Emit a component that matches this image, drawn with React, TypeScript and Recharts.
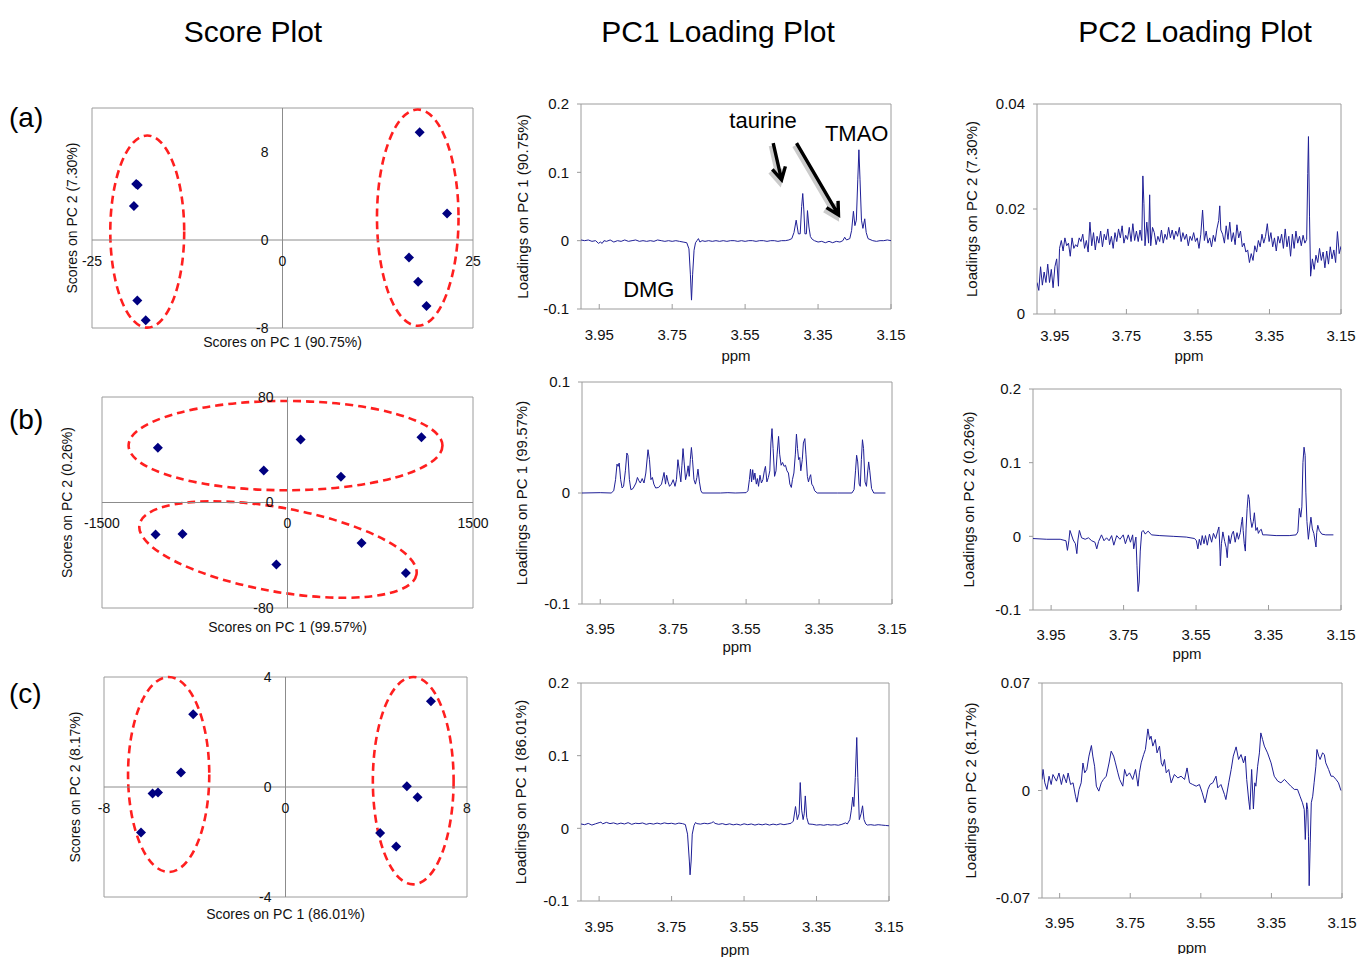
import React from 'react';
import {
  ScatterChart,
  Scatter,
  LineChart,
  Line,
  XAxis,
  YAxis,
  ReferenceArea,
  ReferenceLine,
  ReferenceDot,
} from 'recharts';

const FONT = '"Liberation Sans", Arial, Helvetica, sans-serif';
const NAVY = '#000080';
const SPECTRUM = '#1f1f96';
const FRAME = '#9c9c9c';
const AXIS0 = '#8c8c8c';
const RED = '#ff1f1f';

// ---------- score plots: [PC1, PC2] per sample ----------
const scoresA = [
  [-19.2, 5.1], [-19.0, 5.0], [-19.5, 3.1], [-19.05, -5.5], [-17.95, -7.3],
  [18.0, 9.8], [21.6, 2.4], [16.6, -1.6], [17.8, -3.8], [18.9, -6.0],
];
const scoresB = [
  [-1048, 41.6], [-192, 24.2], [106, 47.7], [432, 19.6], [1083, 49.4],
  [-1067, -24.3], [-849, -23.9], [-90, -47.1], [599, -30.7], [957, -53.5],
];
const scoresC = [
  [-4.07, 2.65], [-4.61, 0.53], [-5.86, -0.24], [-5.62, -0.2], [-6.37, -1.65],
  [6.41, 3.12], [5.35, 0.03], [5.82, -0.37], [4.17, -1.67], [4.88, -2.16],
];

// group ellipses: [pc1 from, pc1 to, pc2 from, pc2 to, tilt deg]
const groupsA = [[-22.6, -12.9, -7.97, 9.5, 0], [12.4, 23.1, -7.8, 11.86, 0]];
const groupsB = [[-1285, 1253, 9.3, 77, 0], [-1215, 1061, -67.5, -3.9, 10.2]];
const groupsC = [[-6.94, -3.36, -3.09, 4.0, 0], [3.85, 7.41, -3.54, 4.0, 0]];

const xTicksA = [-25, 0, 25];
const yTicksA = [-8, 0, 8];
const xTicksB = [-1500, 0, 1500];
const yTicksB = [-80, 0, 80];
const xTicksC = [-8, 0, 8];
const yTicksC = [-4, 0, 4];

// ---------- loading plots: [ppm, loading] ----------
const PPM_TICKS = [3.95, 3.75, 3.55, 3.35, 3.15];

const pc1A = [
  [4.0, 0.001], [3.99, 0.0], [3.98, 0.001], [3.97, -0.001], [3.96, 0.0], [3.952, -0.004], [3.947, -0.002],
  [3.942, -0.004], [3.937, 0.0], [3.93, -0.001], [3.92, 0.001], [3.91, -0.002], [3.9, 0.0], [3.89, -0.001],
  [3.88, 0.001], [3.87, -0.001], [3.86, 0.0], [3.85, 0.001], [3.84, -0.001], [3.83, 0.0], [3.82, -0.001],
  [3.81, 0.0], [3.8, -0.001], [3.79, 0.001], [3.78, 0.0], [3.77, -0.001], [3.76, 0.0], [3.75, -0.001],
  [3.74, 0.0], [3.73, -0.001], [3.72, -0.002], [3.71, -0.003], [3.704, -0.012], [3.7, -0.05], [3.697, -0.087],
  [3.694, -0.05], [3.69, -0.014], [3.686, -0.003], [3.682, 0.0], [3.678, 0.003], [3.674, -0.002], [3.668, 0.0],
  [3.66, -0.001], [3.65, 0.0], [3.64, -0.001], [3.63, 0.0], [3.62, -0.001], [3.61, 0.0], [3.6, -0.001],
  [3.59, 0.0], [3.58, 0.0], [3.57, -0.001], [3.56, 0.0], [3.55, -0.001], [3.54, 0.0], [3.53, 0.0],
  [3.52, -0.001], [3.51, 0.0], [3.5, 0.0], [3.49, -0.001], [3.48, 0.0], [3.47, 0.0], [3.46, -0.001],
  [3.45, 0.0], [3.44, 0.0], [3.43, 0.001], [3.422, 0.003], [3.416, 0.012], [3.41, 0.03], [3.404, 0.01],
  [3.399, 0.01], [3.395, 0.05], [3.392, 0.069], [3.389, 0.045], [3.386, 0.01], [3.382, 0.01], [3.379, 0.044],
  [3.375, 0.02], [3.371, 0.006], [3.366, 0.002], [3.36, 0.0], [3.35, -0.002], [3.34, -0.001], [3.33, -0.003],
  [3.32, -0.001], [3.31, -0.003], [3.3, -0.001], [3.29, -0.002], [3.282, 0.0], [3.277, 0.005], [3.272, 0.001],
  [3.263, 0.003], [3.258, 0.015], [3.253, 0.043], [3.249, 0.022], [3.245, 0.03], [3.241, 0.09], [3.238, 0.133],
  [3.235, 0.09], [3.231, 0.03], [3.227, 0.018], [3.222, 0.032], [3.218, 0.012], [3.213, 0.003], [3.2, 0.0],
  [3.19, -0.001], [3.18, 0.0], [3.17, 0.0], [3.16, 0.001], [3.15, 0.0],
];

const pc2A = [
  [4.0, 0.006], [3.995, 0.0045], [3.99, 0.009], [3.985, 0.0055], [3.98, 0.008], [3.975, 0.006], [3.97, 0.0095],
  [3.965, 0.006], [3.96, 0.0085], [3.955, 0.005], [3.95, 0.009], [3.945, 0.0105], [3.94, 0.0053], [3.937, 0.0125],
  [3.932, 0.014], [3.927, 0.012], [3.922, 0.0145], [3.917, 0.013], [3.912, 0.0135], [3.907, 0.011], [3.902, 0.0145],
  [3.897, 0.0125], [3.892, 0.0132], [3.887, 0.0128], [3.882, 0.0145], [3.877, 0.0138], [3.872, 0.0152],
  [3.867, 0.0125], [3.862, 0.014], [3.857, 0.0118], [3.852, 0.0175], [3.847, 0.013], [3.842, 0.0155],
  [3.837, 0.0122], [3.832, 0.0148], [3.827, 0.0135], [3.822, 0.0158], [3.817, 0.0128], [3.812, 0.0152],
  [3.807, 0.0141], [3.802, 0.0162], [3.797, 0.0132], [3.792, 0.0148], [3.787, 0.0125], [3.782, 0.0155],
  [3.777, 0.0138], [3.772, 0.0162], [3.767, 0.0145], [3.762, 0.0168], [3.757, 0.0135], [3.752, 0.015],
  [3.747, 0.0142], [3.742, 0.0165], [3.737, 0.0138], [3.732, 0.0172], [3.727, 0.014], [3.722, 0.0158],
  [3.717, 0.0138], [3.712, 0.016], [3.707, 0.014], [3.704, 0.0263], [3.701, 0.021], [3.698, 0.013],
  [3.693, 0.0175], [3.688, 0.0135], [3.685, 0.0227], [3.682, 0.013], [3.677, 0.0165], [3.672, 0.0155],
  [3.667, 0.0132], [3.662, 0.0148], [3.657, 0.0138], [3.652, 0.016], [3.647, 0.0135], [3.642, 0.0152],
  [3.637, 0.0142], [3.632, 0.0165], [3.627, 0.0145], [3.622, 0.016], [3.617, 0.0142], [3.612, 0.0158],
  [3.607, 0.0148], [3.602, 0.0165], [3.597, 0.0138], [3.592, 0.0155], [3.587, 0.0142], [3.582, 0.0152],
  [3.577, 0.013], [3.572, 0.0148], [3.567, 0.014], [3.562, 0.0155], [3.557, 0.0138], [3.552, 0.0145],
  [3.547, 0.0125], [3.542, 0.0152], [3.537, 0.0198], [3.532, 0.014], [3.527, 0.0158], [3.522, 0.0135],
  [3.517, 0.0145], [3.512, 0.0128], [3.507, 0.015], [3.502, 0.0138], [3.497, 0.0162], [3.492, 0.0178],
  [3.489, 0.0206], [3.486, 0.016], [3.481, 0.0152], [3.476, 0.0135], [3.471, 0.0168], [3.466, 0.0142],
  [3.461, 0.0175], [3.456, 0.0138], [3.451, 0.0155], [3.446, 0.0132], [3.441, 0.017], [3.436, 0.0145],
  [3.431, 0.0158], [3.426, 0.0128], [3.421, 0.0135], [3.416, 0.0118], [3.411, 0.0122], [3.406, 0.0098],
  [3.401, 0.0115], [3.396, 0.0102], [3.391, 0.013], [3.386, 0.0118], [3.381, 0.014], [3.376, 0.0128],
  [3.371, 0.0152], [3.366, 0.0135], [3.361, 0.0148], [3.356, 0.0172], [3.351, 0.0138], [3.346, 0.0155],
  [3.341, 0.0128], [3.336, 0.0145], [3.331, 0.012], [3.326, 0.0148], [3.321, 0.0135], [3.316, 0.0152],
  [3.311, 0.0125], [3.306, 0.0162], [3.301, 0.0128], [3.296, 0.0148], [3.291, 0.011], [3.286, 0.0152],
  [3.281, 0.0125], [3.276, 0.0158], [3.271, 0.0135], [3.266, 0.0148], [3.261, 0.013], [3.256, 0.015],
  [3.251, 0.0135], [3.246, 0.0142], [3.243, 0.0268], [3.241, 0.0338], [3.238, 0.0185], [3.235, 0.0072],
  [3.23, 0.0105], [3.225, 0.0085], [3.22, 0.0112], [3.215, 0.0098], [3.21, 0.0125], [3.205, 0.0102],
  [3.2, 0.0118], [3.195, 0.0088], [3.19, 0.012], [3.185, 0.0095], [3.18, 0.0128], [3.175, 0.0105],
  [3.17, 0.0122], [3.165, 0.0098], [3.16, 0.0157], [3.155, 0.0115], [3.15, 0.0129],
];

const pc1B = [
  [4.0, 0], [3.95, 0.0003], [3.92, 0], [3.913, 0.002], [3.908, 0.012], [3.904, 0.026], [3.901, 0.024],
  [3.898, 0.027], [3.894, 0.012], [3.89, 0.0045], [3.886, 0.006], [3.881, 0.02], [3.877, 0.036], [3.874, 0.034],
  [3.87, 0.012], [3.866, 0.003], [3.86, 0.004], [3.852, 0.009], [3.848, 0.014], [3.844, 0.011], [3.84, 0.009],
  [3.835, 0.013], [3.83, 0.009], [3.825, 0.018], [3.819, 0.039], [3.815, 0.03], [3.811, 0.012], [3.807, 0.014],
  [3.803, 0.008], [3.798, 0.0045], [3.79, 0.005], [3.782, 0.008], [3.775, 0.0185], [3.771, 0.008], [3.768, 0.016],
  [3.764, 0.01], [3.76, 0.006], [3.755, 0.008], [3.75, 0.012], [3.745, 0.006], [3.741, 0.012], [3.737, 0.03],
  [3.733, 0.02], [3.729, 0.01], [3.726, 0.025], [3.723, 0.04], [3.72, 0.028], [3.716, 0.012], [3.712, 0.018],
  [3.709, 0.0245], [3.706, 0.015], [3.703, 0.03], [3.7, 0.041], [3.697, 0.03], [3.693, 0.012], [3.689, 0.008],
  [3.685, 0.014], [3.682, 0.0215], [3.678, 0.01], [3.674, 0.002], [3.67, 0], [3.62, 0], [3.6, 0.0003],
  [3.58, 0], [3.55, 0.0003], [3.545, 0.002], [3.541, 0.012], [3.538, 0.0215], [3.535, 0.01], [3.532, 0.021],
  [3.529, 0.012], [3.526, 0.018], [3.522, 0.008], [3.519, 0.013], [3.516, 0.006], [3.512, 0.016], [3.508, 0.009],
  [3.504, 0.012], [3.5, 0.02], [3.497, 0.024], [3.493, 0.01], [3.489, 0.014], [3.485, 0.02], [3.482, 0.045],
  [3.479, 0.058], [3.476, 0.04], [3.472, 0.015], [3.468, 0.02], [3.465, 0.035], [3.461, 0.051], [3.458, 0.035],
  [3.454, 0.025], [3.45, 0.0275], [3.446, 0.024], [3.442, 0.025], [3.438, 0.02], [3.434, 0.018], [3.43, 0.008],
  [3.426, 0.005], [3.423, 0.012], [3.419, 0.018], [3.415, 0.035], [3.412, 0.053], [3.409, 0.04], [3.406, 0.03],
  [3.403, 0.032], [3.4, 0.02], [3.396, 0.03], [3.393, 0.045], [3.389, 0.049], [3.386, 0.035], [3.382, 0.015],
  [3.379, 0.01], [3.376, 0.014], [3.373, 0.0165], [3.37, 0.008], [3.366, 0.006], [3.362, 0.002], [3.355, 0],
  [3.3, 0], [3.26, 0], [3.254, 0.003], [3.25, 0.02], [3.247, 0.034], [3.244, 0.028], [3.24, 0.008],
  [3.237, 0.006], [3.234, 0.03], [3.231, 0.048], [3.228, 0.04], [3.224, 0.01], [3.22, 0.006], [3.217, 0.018],
  [3.214, 0.028], [3.211, 0.02], [3.206, 0.004], [3.2, 0], [3.168, 0],
];

const pc2B = [
  [4.0, -0.003], [3.962, -0.004], [3.925, -0.004], [3.909, -0.006], [3.905, -0.019], [3.901, -0.006],
  [3.898, 0.008], [3.889, -0.005], [3.883, -0.01], [3.879, -0.0235], [3.876, -0.005], [3.872, 0.008],
  [3.866, -0.002], [3.856, -0.004], [3.847, -0.002], [3.838, -0.006], [3.829, -0.008], [3.824, -0.017],
  [3.819, -0.007], [3.811, 0.002], [3.804, -0.006], [3.797, -0.002], [3.79, -0.006], [3.783, 0.001],
  [3.777, -0.012], [3.769, 0.001], [3.76, -0.004], [3.751, 0.002], [3.745, -0.01], [3.737, 0.002],
  [3.731, -0.008], [3.725, 0.002], [3.722, -0.017], [3.716, -0.001], [3.713, -0.04], [3.71, -0.075],
  [3.707, -0.062], [3.704, -0.02], [3.7, 0.006], [3.696, 0.008], [3.69, 0.003], [3.687, 0.005], [3.682, 0.007],
  [3.673, 0.002], [3.65, 0.001], [3.613, 0], [3.577, -0.001], [3.554, -0.003], [3.549, -0.006], [3.545, -0.017],
  [3.541, -0.004], [3.537, -0.012], [3.533, 0.001], [3.528, -0.01], [3.524, 0.001], [3.519, -0.012],
  [3.513, 0.003], [3.507, -0.008], [3.502, 0.004], [3.496, -0.003], [3.491, 0.006], [3.487, 0.0127],
  [3.484, -0.02], [3.483, -0.04], [3.48, -0.01], [3.476, 0.006], [3.471, -0.007], [3.467, -0.015],
  [3.464, -0.029], [3.46, 0.001], [3.456, -0.01], [3.451, 0.003], [3.447, 0.007], [3.442, -0.008],
  [3.437, 0.005], [3.433, -0.004], [3.428, 0.005], [3.424, 0.02], [3.422, 0.026], [3.42, 0.008],
  [3.417, -0.01], [3.414, -0.02], [3.412, 0.01], [3.409, 0.038], [3.406, 0.0566], [3.403, 0.05], [3.4, 0.025],
  [3.396, 0.012], [3.392, 0.02], [3.389, 0.032], [3.385, 0.008], [3.381, 0.012], [3.378, 0.004], [3.374, 0.008],
  [3.37, 0.0095], [3.366, 0.002], [3.357, 0.002], [3.329, 0.001], [3.293, 0.001], [3.274, 0.002],
  [3.269, 0.006], [3.265, 0.038], [3.261, 0.026], [3.258, 0.04], [3.255, 0.1], [3.252, 0.121], [3.249, 0.11],
  [3.247, 0.06], [3.244, 0.02], [3.24, -0.004], [3.237, 0.01], [3.233, 0.026], [3.229, 0.01], [3.225, 0.004],
  [3.222, -0.005], [3.219, -0.0145], [3.217, 0.005], [3.214, 0.015], [3.21, 0.008], [3.203, 0.003],
  [3.192, 0.002], [3.171, 0.002],
];

const pc1C = [
  [4.0, 0.006], [3.99, 0.005], [3.98, 0.0068], [3.97, 0.0045], [3.96, 0.0062], [3.95, 0.0078], [3.945, 0.0085],
  [3.94, 0.0062], [3.93, 0.0082], [3.92, 0.0065], [3.91, 0.0075], [3.9, 0.0058], [3.89, 0.0072], [3.88, 0.006],
  [3.87, 0.0078], [3.86, 0.0055], [3.85, 0.007], [3.84, 0.0065], [3.83, 0.0074], [3.82, 0.0055], [3.81, 0.0068],
  [3.8, 0.0058], [3.79, 0.0072], [3.78, 0.006], [3.77, 0.0075], [3.76, 0.0064], [3.75, 0.007], [3.74, 0.0058],
  [3.73, 0.0072], [3.72, 0.0065], [3.712, 0.0052], [3.706, -0.008], [3.701, -0.045], [3.699, -0.064],
  [3.696, -0.045], [3.693, -0.008], [3.688, 0.004], [3.684, 0.008], [3.68, 0.0065], [3.67, 0.0058], [3.66, 0.007],
  [3.65, 0.0062], [3.64, 0.0075], [3.635, 0.009], [3.63, 0.0068], [3.62, 0.0055], [3.61, 0.0065], [3.6, 0.005],
  [3.59, 0.0062], [3.58, 0.0048], [3.57, 0.0058], [3.56, 0.0045], [3.55, 0.0062], [3.54, 0.005], [3.53, 0.006],
  [3.52, 0.0045], [3.51, 0.0058], [3.5, 0.0048], [3.49, 0.006], [3.48, 0.0045], [3.47, 0.0058], [3.46, 0.0048],
  [3.45, 0.0062], [3.44, 0.005], [3.43, 0.006], [3.42, 0.007], [3.414, 0.01], [3.408, 0.03], [3.403, 0.012],
  [3.398, 0.02], [3.395, 0.063], [3.391, 0.025], [3.387, 0.012], [3.384, 0.02], [3.381, 0.0446], [3.377, 0.015],
  [3.372, 0.006], [3.36, 0.0055], [3.35, 0.0045], [3.34, 0.005], [3.33, 0.0042], [3.32, 0.0052], [3.31, 0.0045],
  [3.3, 0.005], [3.29, 0.0042], [3.28, 0.0055], [3.27, 0.0075], [3.265, 0.006], [3.258, 0.012], [3.254, 0.025],
  [3.25, 0.043], [3.247, 0.03], [3.243, 0.07], [3.239, 0.125], [3.236, 0.07], [3.232, 0.012], [3.227, 0.02],
  [3.223, 0.031], [3.219, 0.012], [3.214, 0.006], [3.21, 0.0045], [3.2, 0.005], [3.19, 0.0042], [3.18, 0.005],
  [3.17, 0.0045], [3.16, 0.004], [3.15, 0.0035],
];

const pc2C = [
  [4.0, 0.0072], [3.997, 0.0137], [3.992, 0.005], [3.986, 0.0007], [3.98, 0.0093], [3.974, 0.0039],
  [3.969, 0.0104], [3.959, 0.0061], [3.952, 0.0114], [3.945, 0.0039], [3.939, 0.0104], [3.931, 0.005],
  [3.926, 0.0114], [3.919, 0.0039], [3.912, 0.005], [3.905, -0.0037], [3.901, -0.0076], [3.895, 0.0007],
  [3.889, 0.005], [3.884, 0.0179], [3.879, 0.0115], [3.873, 0.0137], [3.867, 0.0224], [3.86, 0.0293],
  [3.856, 0.0224], [3.851, 0.0158], [3.846, 0.0028], [3.839, -0.0004], [3.832, 0.005], [3.826, 0.0072],
  [3.818, 0.0093], [3.81, 0.0179], [3.804, 0.0256], [3.797, 0.0224], [3.792, 0.018], [3.785, 0.0115],
  [3.78, 0.0072], [3.771, 0.0028], [3.766, 0.0137], [3.76, 0.0093], [3.752, 0.0115], [3.743, 0.0072],
  [3.735, 0.0137], [3.728, 0.0028], [3.724, 0.0115], [3.719, 0.018], [3.712, 0.0234], [3.707, 0.0267],
  [3.7, 0.0401], [3.695, 0.0332], [3.691, 0.0354], [3.686, 0.0289], [3.679, 0.0332], [3.674, 0.0245],
  [3.667, 0.0289], [3.662, 0.018], [3.658, 0.0158], [3.653, 0.0202], [3.648, 0.0115], [3.641, 0.0137],
  [3.634, 0.005], [3.625, 0.0104], [3.615, 0.0082], [3.606, 0.0093], [3.596, 0.0072], [3.589, 0.0147],
  [3.582, 0.005], [3.573, 0.0039], [3.563, 0.0028], [3.554, 0.0039], [3.546, -0.0015], [3.538, -0.008],
  [3.53, 0.0007], [3.524, 0.0039], [3.516, 0.005], [3.507, 0.0093], [3.502, 0.0017], [3.493, 0.0039],
  [3.483, -0.0026], [3.479, -0.0059], [3.471, 0.005], [3.464, 0.0137], [3.458, 0.0224], [3.45, 0.0284],
  [3.443, 0.0202], [3.436, 0.0234], [3.429, 0.018], [3.424, 0.0224], [3.42, 0.0072], [3.414, -0.0069],
  [3.411, -0.0124], [3.406, 0.0137], [3.401, -0.012], [3.397, 0.005], [3.394, 0.0028], [3.389, 0.0158],
  [3.384, 0.0245], [3.38, 0.0375], [3.375, 0.0332], [3.37, 0.0289], [3.361, 0.0245], [3.351, 0.018],
  [3.342, 0.0093], [3.332, 0.0061], [3.323, 0.005], [3.313, 0.0072], [3.304, 0.005], [3.295, 0.0028],
  [3.285, 0.0007], [3.276, 0.0007], [3.269, -0.0037], [3.262, -0.008], [3.257, -0.0124], [3.254, -0.0319],
  [3.25, -0.008], [3.247, -0.0124], [3.245, -0.0298], [3.243, -0.062], [3.24, -0.0341], [3.237, -0.008],
  [3.233, -0.0037], [3.229, 0.005], [3.224, 0.0158], [3.221, 0.0267], [3.216, 0.0224], [3.212, 0.0202],
  [3.205, 0.0245], [3.2, 0.0234], [3.196, 0.018], [3.188, 0.0137], [3.181, 0.0093], [3.175, 0.0093],
  [3.167, 0.0072], [3.16, 0.005], [3.153, 0.0],
];

// annotations for the first PC1 loading plot: [text, ppm, loading]
const notesA = [['taurine', 3.501, 0.1766], ['TMAO', 3.244, 0.158], ['DMG', 3.814, -0.0708]];
// arrows: [ppm from, loading from, ppm to, loading to]
const arrowsA = [[3.473, 0.1426, 3.45, 0.089], [3.409, 0.1426, 3.294, 0.0378]];

type Box = { x: number; y: number; w: number; h: number };

const PAD_TOP = 14;
const PAD_RIGHT = 30;
const Y_AXIS_W = 90;
const X_AXIS_H = 56;

function yTitle(text: string, gap: number, size: number) {
  return {
    content: (props: any) => {
      const vb = props.viewBox || {};
      const cx = vb.x + vb.width - gap;
      const cy = vb.y + vb.height / 2;
      return (
        <text x={cx} y={cy} transform={`rotate(-90 ${cx} ${cy})`} textAnchor="middle"
          dominantBaseline="central" fontSize={size} fill="#111" fontFamily={FONT}>
          {text}
        </text>
      );
    },
  };
}

function xTitle(text: string, dy: number, size: number) {
  return {
    content: (props: any) => {
      const vb = props.viewBox || {};
      return (
        <text x={vb.x + vb.width / 2} y={vb.y + dy} textAnchor="middle" dominantBaseline="central"
          fontSize={size} fill="#111" fontFamily={FONT}>
          {text}
        </text>
      );
    },
  };
}

const ellipseShape = (tilt: number) => (p: any) => {
  const cx = p.x + p.width / 2;
  const cy = p.y + p.height / 2;
  return (
    <ellipse cx={cx} cy={cy} rx={Math.abs(p.width) / 2} ry={Math.abs(p.height) / 2} fill="none"
      stroke={RED} strokeWidth={2.6} strokeDasharray="8 5"
      transform={tilt ? `rotate(${tilt} ${cx} ${cy})` : undefined} />
  );
};

const diamond = (p: any) => (
  <path d={`M${p.cx},${p.cy - 5}L${p.cx + 5},${p.cy}L${p.cx},${p.cy + 5}L${p.cx - 5},${p.cy}Z`} fill={NAVY} />
);

const arrowShape = (p: any) => {
  const { x1, y1, x2, y2 } = p;
  const len = Math.hypot(x2 - x1, y2 - y1) || 1;
  const ux = (x2 - x1) / len;
  const uy = (y2 - y1) / len;
  const head = 14;
  const a = 0.5;
  const hx1 = x2 - head * (ux * Math.cos(a) - uy * Math.sin(a));
  const hy1 = y2 - head * (uy * Math.cos(a) + ux * Math.sin(a));
  const hx2 = x2 - head * (ux * Math.cos(-a) - uy * Math.sin(-a));
  const hy2 = y2 - head * (uy * Math.cos(-a) + ux * Math.sin(-a));
  const d = `M${x1},${y1}L${x2},${y2}M${hx1},${hy1}L${x2},${y2}L${hx2},${hy2}`;
  return (
    <g>
      <path d={d} transform="translate(-2,2.5)" stroke="#a8a8a8" strokeWidth={5} fill="none" opacity={0.6} />
      <path d={d} stroke="#000" strokeWidth={3.4} fill="none" strokeLinejoin="miter" />
    </g>
  );
};

function ScorePlot(props: {
  box: Box; xDomain: number[]; yDomain: number[]; xTicks: number[]; yTicks: number[];
  points: number[][]; groups: number[][]; xLabel: string; yLabel: string; xGap: number; yGap: number;
}) {
  const { box, xDomain, yDomain, xTicks, yTicks, points, groups } = props;
  const data = points.map(([x, y]) => ({ x, y }));
  return (
    <div style={{ position: 'absolute', left: box.x - Y_AXIS_W, top: box.y - PAD_TOP }}>
      <ScatterChart width={Y_AXIS_W + box.w + PAD_RIGHT} height={PAD_TOP + box.h + X_AXIS_H}
        margin={{ top: PAD_TOP, right: PAD_RIGHT, left: 0, bottom: 0 }}>
        <XAxis type="number" dataKey="x" domain={xDomain} allowDataOverflow height={X_AXIS_H} tick={false}
          axisLine={false} tickLine={false} label={xTitle(props.xLabel, props.xGap, 14)} />
        <YAxis type="number" dataKey="y" domain={yDomain} allowDataOverflow width={Y_AXIS_W} tick={false}
          axisLine={false} tickLine={false} label={yTitle(props.yLabel, props.yGap, 14)} />
        <ReferenceArea x1={xDomain[0]} x2={xDomain[1]} y1={yDomain[0]} y2={yDomain[1]} fill="none"
          stroke={FRAME} strokeWidth={1} ifOverflow="visible" />
        <ReferenceLine x={0} stroke={AXIS0} strokeWidth={1} />
        <ReferenceLine y={0} stroke={AXIS0} strokeWidth={1} />
        {groups.map((g, i) => (
          <ReferenceArea key={`g${i}`} x1={g[0]} x2={g[1]} y1={g[2]} y2={g[3]} ifOverflow="visible"
            shape={ellipseShape(g[4])} />
        ))}
        <Scatter data={data} shape={diamond} isAnimationActive={false} />
        {xTicks.map((t) => (
          <ReferenceDot key={`x${t}`} x={t} y={0} r={0} fill="none" stroke="none" ifOverflow="visible"
            label={{ value: String(t), position: 'bottom', offset: 16, fontSize: 14, fill: '#111', fontFamily: FONT }} />
        ))}
        {yTicks.map((t) => (
          <ReferenceDot key={`y${t}`} x={0} y={t} r={0} fill="none" stroke="none" ifOverflow="visible"
            label={{ value: String(t), position: 'left', offset: 14, fontSize: 14, fill: '#111', fontFamily: FONT }} />
        ))}
      </ScatterChart>
    </div>
  );
}

function LoadingPlot(props: {
  box: Box; points: number[][]; yDomain: number[]; yTicks: number[]; yLabel: string;
  yGap: number; tickGap: number; ppmGap: number; notes?: any[]; arrows?: number[][];
}) {
  const { box, points, yDomain, yTicks } = props;
  const data = points.map(([ppm, v]) => ({ ppm, v }));
  return (
    <div style={{ position: 'absolute', left: box.x - Y_AXIS_W, top: box.y - PAD_TOP }}>
      <LineChart width={Y_AXIS_W + box.w + PAD_RIGHT} height={PAD_TOP + box.h + X_AXIS_H} data={data}
        margin={{ top: PAD_TOP, right: PAD_RIGHT, left: 0, bottom: 0 }}>
        <XAxis type="number" dataKey="ppm" domain={[3.15, 4.0]} reversed allowDataOverflow ticks={PPM_TICKS}
          interval={0} height={X_AXIS_H} axisLine={false} tickSize={-5} tickMargin={props.tickGap}
          tickLine={{ stroke: FRAME }} tick={{ fontSize: 15, fill: '#111', fontFamily: FONT }}
          label={xTitle('ppm', props.ppmGap, 15)} />
        <YAxis type="number" domain={yDomain} ticks={yTicks} interval={0} allowDataOverflow width={Y_AXIS_W}
          axisLine={false} tickSize={4} tickMargin={8} tickLine={{ stroke: FRAME }}
          tick={{ fontSize: 15, fill: '#111', fontFamily: FONT }}
          label={yTitle(props.yLabel, props.yGap, 15)} />
        <ReferenceArea x1={3.15} x2={4.0} y1={yDomain[0]} y2={yDomain[1]} fill="none" stroke={FRAME}
          strokeWidth={1} ifOverflow="visible" />
        <Line type="linear" dataKey="v" stroke={SPECTRUM} strokeWidth={1} dot={false} activeDot={false}
          isAnimationActive={false} />
        {(props.arrows || []).map((a, i) => (
          <ReferenceLine key={`a${i}`} segment={[{ x: a[0], y: a[1] }, { x: a[2], y: a[3] }]}
            ifOverflow="visible" shape={arrowShape} />
        ))}
        {(props.notes || []).map((n) => (
          <ReferenceDot key={n[0]} x={n[1]} y={n[2]} r={0} fill="none" stroke="none" ifOverflow="visible"
            label={{ value: n[0], position: 'center', fontSize: 22, fill: '#000', fontFamily: FONT }} />
        ))}
      </LineChart>
    </div>
  );
}

const titleStyle: React.CSSProperties = {
  position: 'absolute', top: 12, width: 400, textAlign: 'center', fontSize: 30, lineHeight: '40px',
  fontFamily: FONT, color: '#000',
};
const rowStyle: React.CSSProperties = {
  position: 'absolute', left: 9, fontSize: 28, lineHeight: '30px', fontFamily: FONT, color: '#000',
};

export default function App() {
  return (
    <div style={{ position: 'relative', width: 1359, height: 959, background: '#fff', fontFamily: FONT, overflow: 'hidden' }}>
      <style>{'html,body{margin:0;background:#fff;overflow:hidden}'}</style>
      <div style={{ ...titleStyle, left: 253 - 200 }}>Score Plot</div>
      <div style={{ ...titleStyle, left: 718 - 200 }}>PC1 Loading Plot</div>
      <div style={{ ...titleStyle, left: 1195 - 200 }}>PC2 Loading Plot</div>
      <div style={{ ...rowStyle, top: 103 }}>(a)</div>
      <div style={{ ...rowStyle, top: 405 }}>(b)</div>
      <div style={{ ...rowStyle, top: 679 }}>(c)</div>

      <ScorePlot box={{ x: 92, y: 108, w: 381, h: 220 }} xDomain={[-25, 25]} yDomain={[-8, 12]}
        xTicks={xTicksA} yTicks={yTicksA} points={scoresA} groups={groupsA}
        xLabel="Scores on PC 1 (90.75%)" yLabel="Scores on PC 2 (7.30%)" xGap={14} yGap={20} />
      <ScorePlot box={{ x: 102, y: 397, w: 371, h: 211 }} xDomain={[-1500, 1500]} yDomain={[-80, 80]}
        xTicks={xTicksB} yTicks={yTicksB} points={scoresB} groups={groupsB}
        xLabel="Scores on PC 1 (99.57%)" yLabel="Scores on PC 2 (0.26%)" xGap={19} yGap={35} />
      <ScorePlot box={{ x: 104, y: 677, w: 363, h: 220 }} xDomain={[-8, 8]} yDomain={[-4, 4]}
        xTicks={xTicksC} yTicks={yTicksC} points={scoresC} groups={groupsC}
        xLabel="Scores on PC 1 (86.01%)" yLabel="Scores on PC 2 (8.17%)" xGap={17} yGap={29} />

      <LoadingPlot box={{ x: 581, y: 104, w: 310, h: 205 }} points={pc1A} yDomain={[-0.1, 0.2]}
        yTicks={[-0.1, 0, 0.1, 0.2]} yLabel="Loadings on PC 1 (90.75%)" yGap={59} tickGap={25} ppmGap={46}
        notes={notesA} arrows={arrowsA} />
      <LoadingPlot box={{ x: 1037, y: 104, w: 304, h: 210 }} points={pc2A} yDomain={[0, 0.04]}
        yTicks={[0, 0.02, 0.04]} yLabel="Loadings on PC 2 (7.30%)" yGap={66} tickGap={21} ppmGap={41} />
      <LoadingPlot box={{ x: 582, y: 382, w: 310, h: 222 }} points={pc1B} yDomain={[-0.1, 0.1]}
        yTicks={[-0.1, 0, 0.1]} yLabel="Loadings on PC 1 (99.57%)" yGap={61} tickGap={24} ppmGap={42} />
      <LoadingPlot box={{ x: 1033, y: 389, w: 308, h: 221 }} points={pc2B} yDomain={[-0.1, 0.2]}
        yTicks={[-0.1, 0, 0.1, 0.2]} yLabel="Loadings on PC 2 (0.26%)" yGap={65} tickGap={24} ppmGap={43} />
      <LoadingPlot box={{ x: 581, y: 683, w: 308, h: 218 }} points={pc1C} yDomain={[-0.1, 0.2]}
        yTicks={[-0.1, 0, 0.1, 0.2]} yLabel="Loadings on PC 1 (86.01%)" yGap={61} tickGap={25} ppmGap={48} />
      <LoadingPlot box={{ x: 1042, y: 683, w: 300, h: 215 }} points={pc2C} yDomain={[-0.07, 0.07]}
        yTicks={[-0.07, 0, 0.07]} yLabel="Loadings on PC 2 (8.17%)" yGap={72} tickGap={24} ppmGap={49} />
    </div>
  );
}
